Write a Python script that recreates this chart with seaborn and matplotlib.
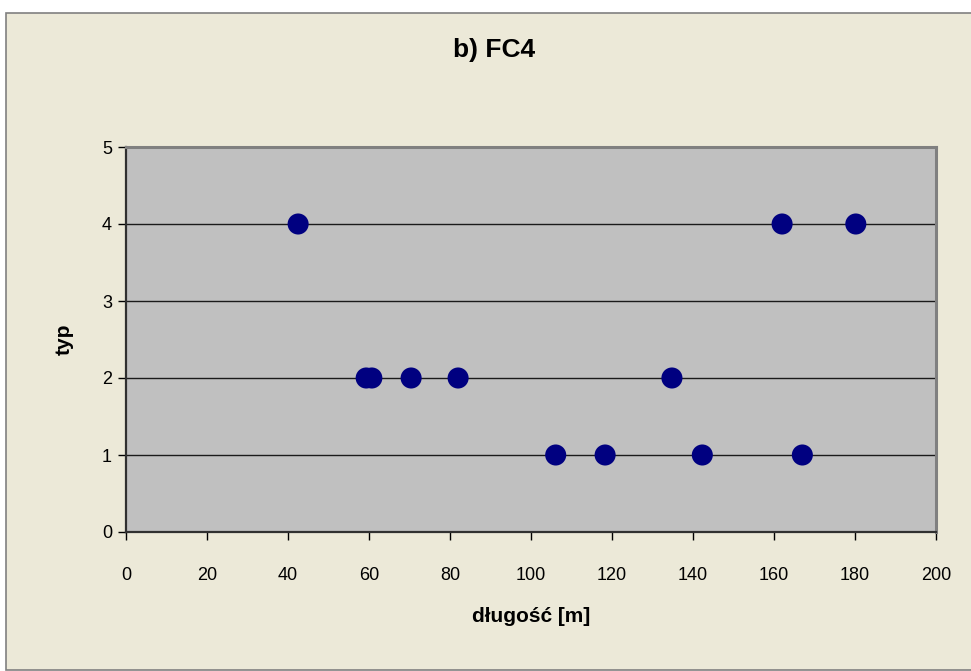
import matplotlib
matplotlib.use("Agg")
import matplotlib.pyplot as plt
from matplotlib.patches import Rectangle
import seaborn as sns
import pandas as pd

# Lengths [m] and type classes for FC4
dlugosc = [42.5, 59.3, 60.7, 70.4, 82.0, 134.8, 106.1, 118.3, 142.3, 167.0, 162.0, 180.2]
typ = [4, 2, 2, 2, 2, 2, 1, 1, 1, 1, 4, 4]

x_ticks = [0, 20, 40, 60, 80, 100, 120, 140, 160, 180, 200]
y_ticks = [0, 1, 2, 3, 4, 5]

df = pd.DataFrame({"długość [m]": dlugosc, "typ": typ})

plt.rcParams["font.family"] = ["Liberation Sans", "DejaVu Sans"]

fig = plt.figure(figsize=(9.71, 6.71), dpi=100, facecolor="white")

# chart area panel behind everything
fig.patches.append(Rectangle((6 / 971, 1 / 671), 1.0, 1 - 14 / 671,
                             transform=fig.transFigure, facecolor="#ECE9D8",
                             edgecolor="#808080", linewidth=1.2, zorder=-10))

ax = fig.add_axes([126 / 971, 1 - 532 / 671, (936 - 126) / 971, (532 - 147) / 671])
ax.set_zorder(1)
ax.set_facecolor("#C0C0C0")

for yv in y_ticks[1:-1]:
    ax.axhline(yv, color="#1a1a1a", linewidth=1.0, zorder=1)

sns.scatterplot(data=df, x="długość [m]", y="typ", ax=ax, color="#000080",
                s=230, edgecolor="none", zorder=3, legend=False)

ax.set_xlim(0, 200)
ax.set_ylim(0, 5)
ax.set_xticks(x_ticks)
ax.set_yticks(y_ticks)
ax.tick_params(axis="both", labelsize=13, length=6, width=1, color="black")
ax.tick_params(axis="x", pad=19)
ax.tick_params(axis="y", pad=4)

for side in ("top", "right"):
    ax.spines[side].set_color("#808080")
    ax.spines[side].set_linewidth(2.2)
for side in ("left", "bottom"):
    ax.spines[side].set_color("#303030")
    ax.spines[side].set_linewidth(1.6)

ax.set_xlabel("długość [m]", fontsize=15, fontweight="bold", labelpad=17)
ax.set_ylabel("typ", fontsize=15, fontweight="bold", labelpad=20)

fig.text(494 / 971, 1 - 50 / 671, "b) FC4", ha="center", va="center",
         fontsize=19, fontweight="bold", zorder=2)

fig.savefig("out.png", dpi=100, facecolor=fig.get_facecolor())
